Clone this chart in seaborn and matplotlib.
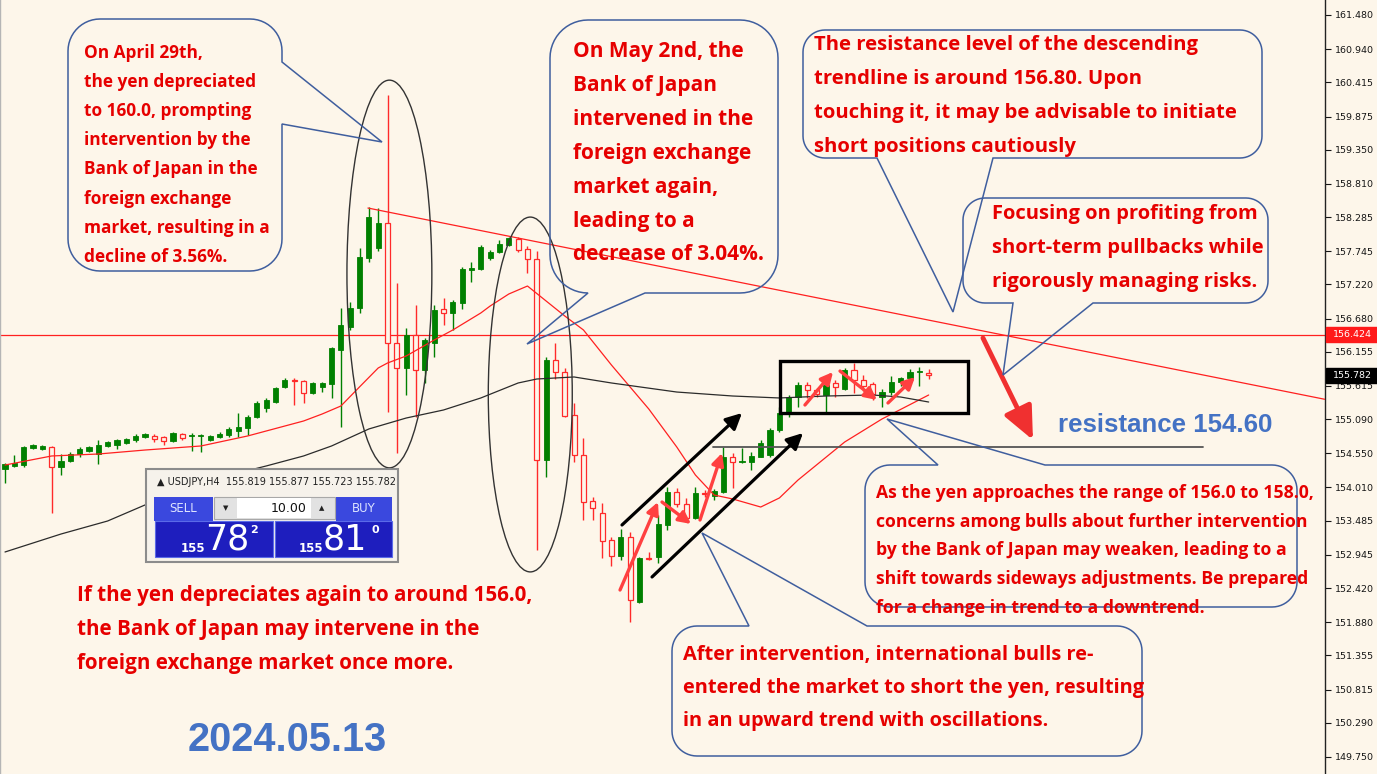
import numpy as np
import matplotlib
matplotlib.use('Agg')
import matplotlib.pyplot as plt
import seaborn as sns
from matplotlib.patches import Polygon, Rectangle, Ellipse
from matplotlib.transforms import blended_transform_factory


# USDJPY H4 candles (oldest -> newest)
opens = [154.302, 154.350, 154.365, 154.634, 154.618, 154.650, 154.334, 154.429, 154.539, 154.587,
         154.539, 154.666, 154.681, 154.713, 154.761, 154.808, 154.824, 154.808, 154.745, 154.855,
         154.824, 154.824, 154.761, 154.808, 154.840, 154.903, 154.950, 155.124, 155.267, 155.361,
         155.599, 155.709, 155.693, 155.504, 155.599, 155.646, 156.184, 156.547, 156.848, 157.638,
         157.796, 158.191, 156.294, 155.899, 156.421, 155.867, 156.294, 156.832, 156.769, 156.927,
         157.448, 157.464, 157.638, 157.733, 157.844, 157.938, 157.780, 157.622, 154.444, 156.025,
         155.836, 155.156, 154.523, 153.796, 153.606, 153.180, 152.927, 153.227, 152.199, 152.895,
         152.911, 153.417, 153.938, 153.749, 153.527, 153.923, 153.875, 153.938, 154.492, 154.413,
         154.413, 154.492, 154.523, 154.919, 155.203, 155.440, 155.630, 155.551, 155.472, 155.662,
         155.567, 155.867, 155.709, 155.646, 155.440, 155.519, 155.678, 155.741, 155.836, 155.819]
highs = [154.397, 154.523, 154.666, 154.697, 154.681, 154.666, 154.539, 154.571, 154.650, 154.666,
         154.761, 154.745, 154.776, 154.792, 154.855, 154.871, 154.855, 154.824, 154.887, 154.871,
         154.871, 154.855, 154.840, 154.887, 154.966, 155.187, 155.156, 155.377, 155.425, 155.598,
         155.741, 155.741, 155.709, 155.678, 155.678, 156.231, 156.848, 156.942, 157.796, 158.444,
         158.428, 160.215, 157.243, 156.531, 156.895, 156.373, 156.895, 157.006, 156.974, 157.496,
         157.575, 157.844, 157.765, 157.923, 157.970, 157.970, 157.828, 157.749, 156.073, 156.294,
         155.899, 155.346, 154.792, 153.859, 153.764, 153.227, 153.353, 153.306, 152.911, 152.990,
         153.575, 154.017, 154.001, 153.844, 154.017, 153.970, 153.986, 154.650, 154.555, 154.634,
         154.571, 154.761, 154.950, 155.282, 155.472, 155.678, 155.678, 155.583, 155.662, 155.709,
         155.899, 155.978, 155.788, 155.678, 155.567, 155.772, 155.757, 155.883, 155.915, 155.877]
lows = [154.081, 154.334, 154.334, 154.618, 154.603, 153.606, 154.207, 154.413, 154.492, 154.571,
        154.381, 154.650, 154.618, 154.697, 154.729, 154.792, 154.729, 154.681, 154.729, 154.761,
        154.587, 154.571, 154.745, 154.792, 154.808, 154.808, 154.840, 155.108, 155.203, 155.346,
        155.583, 155.314, 155.346, 155.488, 155.519, 155.425, 154.966, 156.500, 156.768, 157.575,
        157.749, 155.203, 154.555, 155.472, 155.124, 155.661, 156.073, 156.579, 156.500, 156.832,
        157.259, 157.448, 157.606, 157.717, 157.828, 157.733, 157.401, 153.021, 154.176, 155.725,
        155.124, 154.413, 153.496, 153.496, 152.895, 152.768, 152.864, 151.883, 152.184, 152.864,
        152.816, 153.338, 153.701, 153.464, 153.511, 153.859, 153.812, 153.923, 153.998, 154.397,
        154.286, 154.492, 154.492, 154.887, 155.124, 155.282, 155.425, 155.440, 155.203, 155.440,
        155.551, 155.504, 155.535, 155.393, 155.282, 155.472, 155.614, 155.725, 155.614, 155.723]
closes = [154.381, 154.397, 154.650, 154.681, 154.666, 154.334, 154.429, 154.539, 154.618, 154.650,
          154.681, 154.729, 154.761, 154.776, 154.824, 154.855, 154.776, 154.745, 154.871, 154.792,
          154.840, 154.840, 154.824, 154.855, 154.935, 154.966, 155.124, 155.346, 155.393, 155.583,
          155.709, 155.693, 155.504, 155.662, 155.662, 156.215, 156.579, 156.848, 157.654, 158.286,
          158.191, 156.294, 155.899, 156.421, 155.867, 156.341, 156.816, 156.769, 156.942, 157.464,
          157.480, 157.812, 157.733, 157.859, 157.954, 157.765, 157.622, 154.444, 156.025, 155.836,
          155.140, 154.523, 153.780, 153.685, 153.164, 152.927, 153.227, 152.231, 152.895, 152.879,
          153.433, 153.938, 153.749, 153.527, 153.923, 153.907, 153.954, 154.492, 154.413, 154.429,
          154.508, 154.713, 154.919, 155.187, 155.440, 155.630, 155.551, 155.488, 155.630, 155.599,
          155.867, 155.709, 155.614, 155.488, 155.519, 155.678, 155.741, 155.836, 155.851, 155.782]

# moving averages, sampled along the drawn curves (bar index, price)
fast_ma_idx = [0, 5, 10, 15, 21, 26, 32, 34, 36, 38, 40, 41, 43, 46, 48, 51, 52, 54, 56,
               60, 62, 65, 69, 72, 74, 76, 78, 81, 83, 85, 90, 94, 99]
fast_ma = [154.365, 154.508, 154.539, 154.602, 154.666, 154.824, 155.061, 155.172, 155.298,
           155.600, 155.899, 155.978, 156.089, 156.341, 156.500, 156.769, 156.879, 157.069,
           157.195, 156.721, 156.500, 155.946, 155.251, 154.650, 154.207, 153.891, 153.828,
           153.701, 153.844, 154.128, 154.729, 155.093, 155.472]
slow_ma_idx = [0, 6, 11, 15, 25, 28, 32, 35, 39, 43, 47, 51, 55, 57, 61, 65, 72, 78, 83, 88, 93, 96, 99]
slow_ma = [152.990, 153.274, 153.480, 153.733, 154.239, 154.350, 154.508, 154.666, 154.935,
           155.108, 155.235, 155.425, 155.662, 155.725, 155.757, 155.662, 155.519, 155.456,
           155.425, 155.456, 155.472, 155.440, 155.361]

# price axis labels
tick_prices = [161.480, 160.940, 160.415, 159.875, 159.350, 158.810, 158.285, 157.745, 157.220,
               156.680, 156.155, 155.615, 155.090, 154.550, 154.010, 153.485, 152.945, 152.420,
               151.880, 151.355, 150.815, 150.290, 149.750]

h_line = 156.424
last_price = 155.782
support = 154.65

# trendline endpoints (bar index, price)
trend_x = [38.9, 141.5]
trend_y = [158.428, 155.403]


sns.set_style('white')
plt.rcParams['font.family'] = ['Open Sans', 'DejaVu Sans']

BG = '#FDF6EA'
GREEN = '#008000'
RED = '#FF2A2A'
BLUE_LINE = '#3F5E9E'
TXT_RED = '#E60000'
TXT_BLUE = '#4472C4'

W, H = 1377, 774
fig = plt.figure(figsize=(W / 100, H / 100), dpi=100, facecolor=BG)
ax = fig.add_axes([0, 0, 1325 / W, 1])
ax.set_facecolor(BG)
ax.set_xlim(-0.536, 141.48)
ax.set_ylim(149.480, 161.717)

o = np.array(opens)
hi = np.array(highs)
lo = np.array(lows)
c = np.array(closes)
idx = np.arange(len(c))
up = c >= o

# wicks, then bodies (red bodies hollow)
ax.vlines(idx, lo, hi, colors=np.where(up, GREEN, RED), lw=1.0, zorder=2)
ax.bar(idx[up], np.maximum(c[up] - o[up], 0.012), bottom=o[up], width=0.55,
       color=GREEN, edgecolor=GREEN, lw=0.6, zorder=3)
ax.bar(idx[~up], np.maximum(o[~up] - c[~up], 0.012), bottom=c[~up], width=0.55,
       color=BG, edgecolor=RED, lw=0.9, zorder=3)

sns.lineplot(x=fast_ma_idx, y=fast_ma, ax=ax, color='#FF2020', lw=0.9, zorder=4)
sns.lineplot(x=slow_ma_idx, y=slow_ma, ax=ax, color='#2B2B2B', lw=0.9, zorder=4)

ax.axhline(h_line, color='#FF2020', lw=0.9, zorder=1)
ax.plot(trend_x, trend_y, color='#FF2020', lw=0.9, zorder=4)
ax.plot([75.9, 128.4], [support, support], color='#555555', lw=1.3, zorder=4)

# ellipses round the two interventions
ax.add_patch(Ellipse((41.2, 157.385), 9.1, 6.13, fill=False, ec='#333333', lw=1.0, zorder=5))
ax.add_patch(Ellipse((56.3, 155.48), 9.0, 5.61, fill=False, ec='#333333', lw=1.0, zorder=5))

# consolidation box
ax.add_patch(Rectangle((83.06, 155.187), 20.2, 0.823, fill=False, ec='black', lw=2.4, zorder=6))


def arrow(p0, p1, color, lw, ms, style='-|>,head_length=0.6,head_width=0.3'):
    ax.annotate('', xy=p1, xytext=p0, zorder=7,
                arrowprops=dict(arrowstyle=style, color=color, lw=lw,
                                mutation_scale=ms, shrinkA=0, shrinkB=0))


# rising channel
arrow((66.13, 153.417), (78.99, 155.187), 'black', 2.3, 16)
arrow((69.35, 152.595), (85.53, 154.871), 'black', 2.3, 16)

# swing arrows
RA = '#FF4040'
arrow((65.92, 152.389), (69.99, 153.780), RA, 2.4, 12)
arrow((70.42, 153.780), (73.53, 153.433), RA, 2.4, 12)
arrow((74.49, 153.496), (76.85, 154.555), RA, 2.4, 12)
arrow((85.74, 155.314), (88.75, 155.836), RA, 2.4, 12)
arrow((89.50, 155.851), (93.46, 155.393), RA, 2.4, 12)
arrow((94.64, 155.346), (97.54, 155.757), RA, 2.4, 12)
arrow((104.82, 156.373), (110.18, 154.761), '#F03030', 3.5, 20,
      style='-|>,head_length=1.0,head_width=0.45')

# price axis on the right
ax.yaxis.tick_right()
ax.set_yticks(tick_prices)
ax.set_yticklabels([f'{t:.3f}' for t in tick_prices])
ax.tick_params(axis='y', direction='out', length=4, width=0.8, pad=3,
               labelsize=6.8, labelcolor='#151515', colors='#151515')
for lab in ax.get_yticklabels():
    lab.set_family('DejaVu Sans')
ax.set_xticks([])
for s in ['top', 'bottom']:
    ax.spines[s].set_visible(False)
ax.spines['right'].set_color('#222222')
ax.spines['right'].set_linewidth(1.0)
ax.spines['left'].set_color('#B5B5B5')
ax.spines['left'].set_linewidth(1.0)

# price tags on the axis
tr = blended_transform_factory(ax.transAxes, ax.transData)
for price, col in [(h_line, '#FF1A1A'), (last_price, '#000000')]:
    ax.add_patch(Rectangle((1.001, price - 0.117), 0.0385, 0.234, transform=tr,
                           color=col, clip_on=False, zorder=8))
    ax.text(1.0205, price, f'{price:.3f}', transform=tr, ha='center', va='center',
            color='white', fontsize=6.8, family='DejaVu Sans', zorder=9)

# overlay in pixel units for the callouts and the trade panel
ov = fig.add_axes([0, 0, 1, 1])
ov.set_xlim(0, W)
ov.set_ylim(H, 0)
ov.axis('off')
ov.patch.set_visible(False)
ov.set_zorder(5)


def callout(x0, y0, x1, y1, r, side, base, tip):
    def arc(cx, cy, a0, a1):
        t = np.radians(np.linspace(a0, a1, 14))
        return list(zip(cx + r * np.cos(t), cy + r * np.sin(t)))
    pts = arc(x0 + r, y0 + r, 180, 270)
    if side == 'top':
        pts += [(base[0], y0), tip, (base[1], y0)]
    pts += arc(x1 - r, y0 + r, 270, 360)
    if side == 'right':
        pts += [(x1, base[0]), tip, (x1, base[1])]
    pts += arc(x1 - r, y1 - r, 0, 90)
    if side == 'bottom':
        pts += [(base[1], y1), tip, (base[0], y1)]
    pts += arc(x0 + r, y1 - r, 90, 180)
    ov.add_patch(Polygon(pts, closed=True, fill=False, ec=BLUE_LINE, lw=1.1))


def lines(x, y0, dy, rows, size, color=TXT_RED):
    for k, row in enumerate(rows):
        ov.text(x, y0 + k * dy, row, fontsize=size, color=color, fontweight='bold',
                ha='left', va='center')


callout(68, 19, 282, 271, 32, 'right', (62, 124), (382, 142))
lines(84, 53, 29.1, ['On April 29th,', 'the yen depreciated', 'to 160.0, prompting',
                     'intervention by the', 'Bank of Japan in the', 'foreign exchange',
                     'market, resulting in a', 'decline of 3.56%.'], 12.4)

callout(550, 20, 778, 293, 38, 'bottom', (588, 645), (527, 344))
lines(573, 52, 33.8, ['On May 2nd, the', 'Bank of Japan', 'intervened in the',
                      'foreign exchange', 'market again,', 'leading to a',
                      'decrease of 3.04%.'], 15)

callout(803, 30, 1262, 158, 22, 'bottom', (877, 993), (953, 312))
lines(814, 45, 34, ['The resistance level of the descending',
                    'trendline is around 156.80. Upon',
                    'touching it, it may be advisable to initiate',
                    'short positions cautiously'], 14.6)

callout(963, 198, 1268, 303, 22, 'bottom', (1013, 1093), (1003, 375))
lines(992, 214, 34, ['Focusing on profiting from', 'short-term pullbacks while',
                     'rigorously managing risks.'], 14.5)

callout(865, 465, 1297, 607, 25, 'top', (938, 1045), (887, 419))
lines(876, 493, 28.7, ['As the yen approaches the range of 156.0 to 158.0,',
                       'concerns among bulls about further intervention',
                       'by the Bank of Japan may weaken, leading to a',
                       'shift towards sideways adjustments. Be prepared',
                       'for a change in trend to a downtrend.'], 12.7)

callout(672, 626, 1142, 756, 25, 'top', (749, 867), (702, 533))
lines(683, 655, 33, ['After intervention, international bulls re-',
                     'entered the market to short the yen, resulting',
                     'in an upward trend with oscillations.'], 14.4)

lines(77, 596, 33.5, ['If the yen depreciates again to around 156.0,',
                      'the Bank of Japan may intervene in the',
                      'foreign exchange market once more.'], 14.9)

ov.text(1058, 425, 'resistance 154.60', fontsize=18.6, color=TXT_BLUE, fontweight='bold',
        ha='left', va='center', family=['Liberation Sans', 'DejaVu Sans'])
ov.text(188, 740, '2024.05.13', fontsize=28.6, color=TXT_BLUE, fontweight='bold',
        ha='left', va='center', family=['Liberation Sans', 'DejaVu Sans'])

# one-click trading panel
ov.add_patch(Rectangle((146, 469), 252, 93, fc='#F6F2EB', ec='#8C8C8C', lw=1.5))
ov.text(157, 482, '\u25B2 USDJPY,H4  155.819 155.877 155.723 155.782', fontsize=7,
        color='#202020', family='DejaVu Sans', va='center')
ov.add_patch(Rectangle((154, 497), 59, 24, fc='#3A48DE', ec='none'))
ov.add_patch(Rectangle((336, 497), 56, 24, fc='#3A48DE', ec='none'))
ov.text(183, 509, 'SELL', fontsize=8.5, color='#DDE4FF', ha='center', va='center',
        family='DejaVu Sans')
ov.text(364, 509, 'BUY', fontsize=8.5, color='#DDE4FF', ha='center', va='center',
        family='DejaVu Sans')
ov.add_patch(Rectangle((214, 497), 121, 22, fc='#E2E2E2', ec='#A8A8A8', lw=0.8))
ov.add_patch(Rectangle((237, 498), 74, 20, fc='white', ec='none'))
ov.text(226, 508, '\u25BC', fontsize=5, color='#222222', ha='center', va='center',
        family='DejaVu Sans')
ov.text(322, 508, '\u25B2', fontsize=5, color='#222222', ha='center', va='center',
        family='DejaVu Sans')
ov.text(307, 508, '10.00', fontsize=9, color='#111111', ha='right', va='center',
        family='DejaVu Sans')
ov.add_patch(Rectangle((155, 521), 118, 36, fc='#1E1EBE', ec='#5A6AE8', lw=0.8))
ov.add_patch(Rectangle((275, 521), 117, 36, fc='#1E1EBE', ec='#5A6AE8', lw=0.8))
for x155, xbig, xsup, big, sup in [(193, 227, 254, '78', '2'), (311, 345, 375, '81', '0')]:
    ov.text(x155, 548, '155', fontsize=8.5, color='white', fontweight='bold',
            ha='center', va='center', family='DejaVu Sans')
    ov.text(xbig, 540, big, fontsize=25, color='white', ha='center', va='center',
            family='DejaVu Sans')
    ov.text(xsup, 530, sup, fontsize=8, color='white', fontweight='bold',
            ha='center', va='center', family='DejaVu Sans')

fig.savefig('out.png', dpi=100, facecolor=BG)
